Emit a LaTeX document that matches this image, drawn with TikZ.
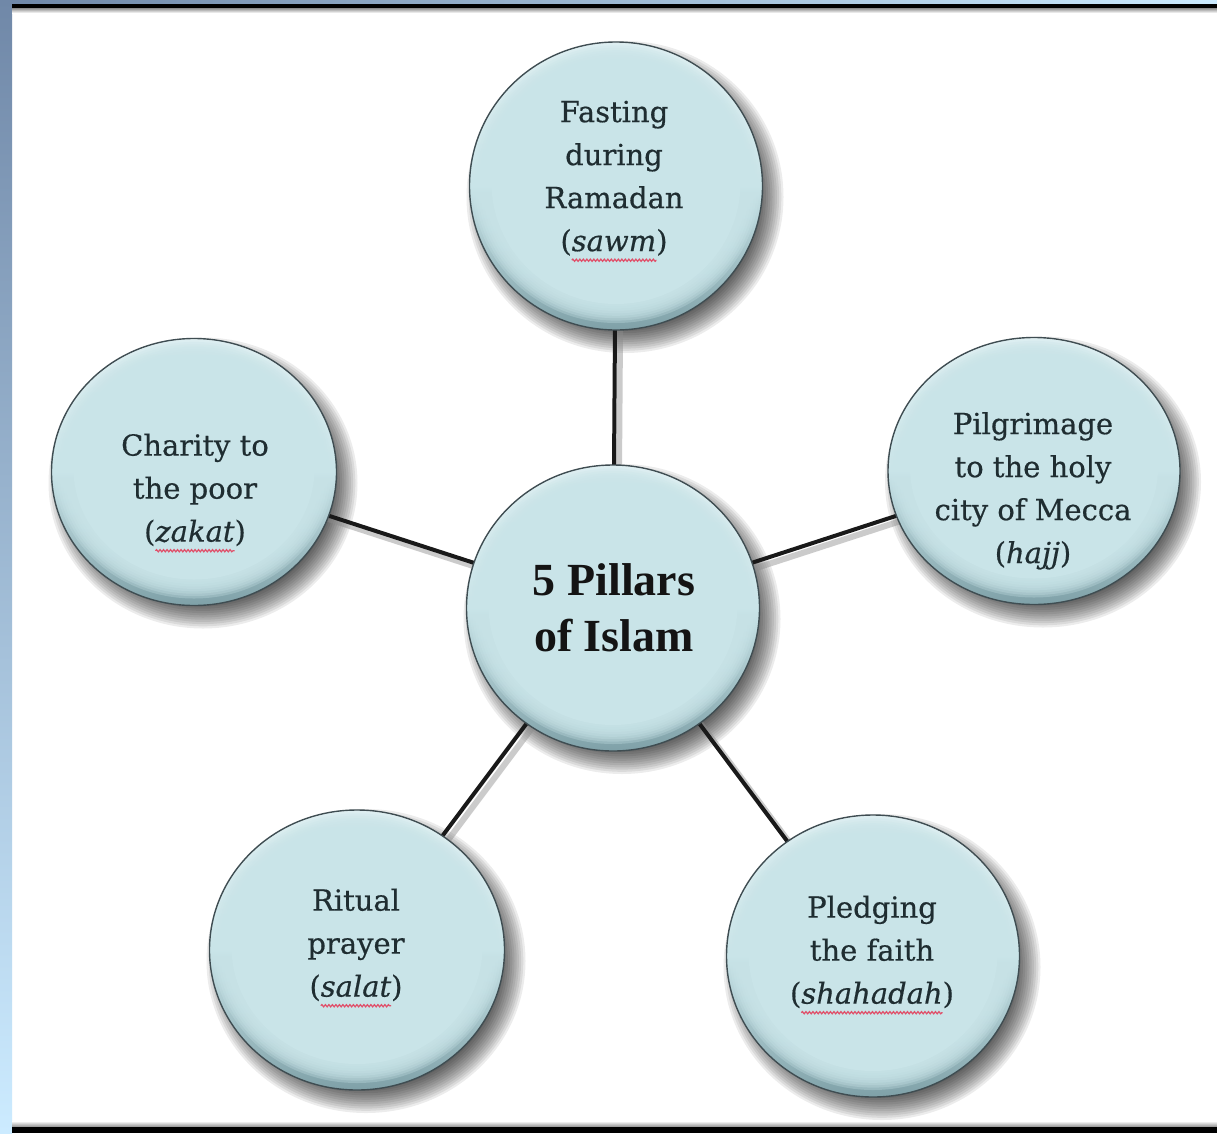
\documentclass[tikz,border=0pt]{standalone}
\usepackage{fontspec}
\setmainfont{DejaVu Serif}
\newfontfamily\lblfam{DejaVu Serif}[FakeBold=0.5]
\newfontfamily\pillarfont{Liberation Serif}
\usetikzlibrary{shapes.geometric,decorations.pathmorphing}
\definecolor{btnfill}{HTML}{C9E4E8}
\definecolor{btntop}{HTML}{E6F3F5}
\definecolor{btnbot}{HTML}{7FA1A8}
\definecolor{btnedge}{HTML}{3F4D52}
\definecolor{txtcol}{HTML}{1F2D31}
\definecolor{sqred}{HTML}{E0506A}
\definecolor{slate}{HTML}{7088A8}
\definecolor{skyb}{HTML}{CCEBFF}
\pgfdeclarelayer{paper}
\pgfdeclarelayer{bshadow}
\pgfdeclarelayer{links}
\pgfsetlayers{paper,bshadow,links,main}
\newcommand\lblfont{\lblfam\fontsize{29}{43}\selectfont}
\newlength\wsawm \newlength\wzakat \newlength\wsalat \newlength\wshahadah
\settowidth\wsawm{\lblfont\itshape sawm}
\settowidth\wzakat{\lblfont\itshape zakat}
\settowidth\wsalat{\lblfont\itshape salat}
\settowidth\wshahadah{\lblfont\itshape shahadah}
\newcommand\bshadow[3]{%
  \foreach \i in {0,...,11}{%
    \pgfmathsetmacro\rx{#2/2+12-2.2*\i}%
    \pgfmathsetmacro\ry{#3/2+12-2.2*\i}%
    \fill[black, opacity=0.075] ([shift={(9,11)}]#1.center) ellipse [x radius=\rx pt, y radius=\ry pt];
  }}
\newcommand\bface[3]{%
  \foreach \i in {0,...,7}{%
    \pgfmathsetmacro\rx{#2/2-3-2.4*\i}%
    \pgfmathsetmacro\ry{#3/2-4-2.4*\i}%
    \fill[btnfill, opacity=0.3] ([shift={(0,-3)}]#1.center) ellipse [x radius=\rx pt, y radius=\ry pt];
  }
  \pgfmathsetmacro\rx{#2/2-22}%
  \pgfmathsetmacro\ry{#3/2-23}%
  \fill[btnfill] ([shift={(0,-3)}]#1.center) ellipse [x radius=\rx pt, y radius=\ry pt];}
\newcommand\squiggle[2]{%
  \draw[squig] ([xshift=-0.5#2, yshift=4pt]#1.south) -- ([xshift=0.5#2, yshift=4pt]#1.south);}
\tikzset{
  btn/.style={ellipse, draw=btnedge, line width=1.4pt, top color=btntop, bottom color=btnbot, middle color=btnfill, inner sep=0pt},
  lbl/.style={align=center, text=txtcol, inner sep=0pt, font=\lblfont},
  ctitle/.style={align=center, text=black!92, inner sep=0pt, font=\pillarfont\bfseries\fontsize{46}{56}\selectfont},
  link/.style={line width=4pt, black!90},
  linkshadow/.style={line width=6pt, black!45, opacity=0.45},
  squig/.style={draw=sqred, line width=1.2pt, decorate, decoration={snake, segment length=3.5pt, amplitude=1.1pt}}
}
\begin{document}
\begin{tikzpicture}[x=1pt, y=-1pt]
\begin{pgfonlayer}{paper}
  \fill[white] (0,0) rectangle (1217,1133);
  \useasboundingbox (0,0) rectangle (1217,1133);
\end{pgfonlayer}

% buttons
\node[btn, minimum width=293pt, minimum height=288pt] (t) at (616,186) {};
\node[btn, minimum width=293pt, minimum height=286pt] (c) at (613,608) {};
\node[btn, minimum width=285pt, minimum height=267pt] (l) at (194,472) {};
\node[btn, minimum width=292pt, minimum height=267pt] (r) at (1034,471) {};
\node[btn, minimum width=295pt, minimum height=280pt] (bl) at (357,950) {};
\node[btn, minimum width=293pt, minimum height=282pt] (br) at (873,956) {};

% button faces (bevel)
\bface{t}{293}{288}
\bface{c}{293}{286}
\bface{l}{285}{267}
\bface{r}{292}{267}
\bface{bl}{295}{280}
\bface{br}{293}{282}

% labels
\node[lbl] (tt) at (614,178) {\strut Fasting\\during\\Ramadan\\({\itshape sawm})\strut};
\node[lbl] (lt) at (195,490) {\strut Charity to\\the poor\\({\itshape zakat})\strut};
\node[lbl] (rt) at (1033,490) {\strut Pilgrimage\\to the holy\\city of Mecca\\({\itshape hajj})\strut};
\node[lbl] (blt) at (356,945) {\strut Ritual\\prayer\\({\itshape salat})\strut};
\node[lbl] (brt) at (872,952) {\strut Pledging\\the faith\\({\itshape shahadah})\strut};
\node[ctitle] (ct) at (614,612) {\strut 5 Pillars\\of Islam\strut};

% spell-check squiggles
\squiggle{tt}{\wsawm}
\squiggle{lt}{\wzakat}
\squiggle{blt}{\wsalat}
\squiggle{brt}{\wshahadah}

% shadows of buttons
\begin{pgfonlayer}{bshadow}
  \bshadow{t}{293}{288}
  \bshadow{c}{293}{286}
  \bshadow{l}{285}{267}
  \bshadow{r}{292}{267}
  \bshadow{bl}{295}{280}
  \bshadow{br}{293}{282}
\end{pgfonlayer}

% connectors
\begin{pgfonlayer}{links}
  \foreach \n in {t,l,r,bl,br}{
    \draw[linkshadow] ([shift={(5,5)}]c.center) -- ([shift={(5,5)}]\n.center);
    \draw[link] (c.center) -- (\n.center);
  }
\end{pgfonlayer}

% frame
\shade[top color=slate, bottom color=skyb] (0,0) rectangle (12,1133);
\shade[left color=slate, right color=skyb] (12,0) rectangle (1217,4);
\fill[black] (12,4) rectangle (1217,8);
\shade[top color=black!45, bottom color=white] (12,8) rectangle (1217,13);
\shade[top color=white, bottom color=black!45] (12,1121) rectangle (1217,1127);
\fill[black] (12,1127) rectangle (1217,1133);
\end{tikzpicture}
\end{document}
